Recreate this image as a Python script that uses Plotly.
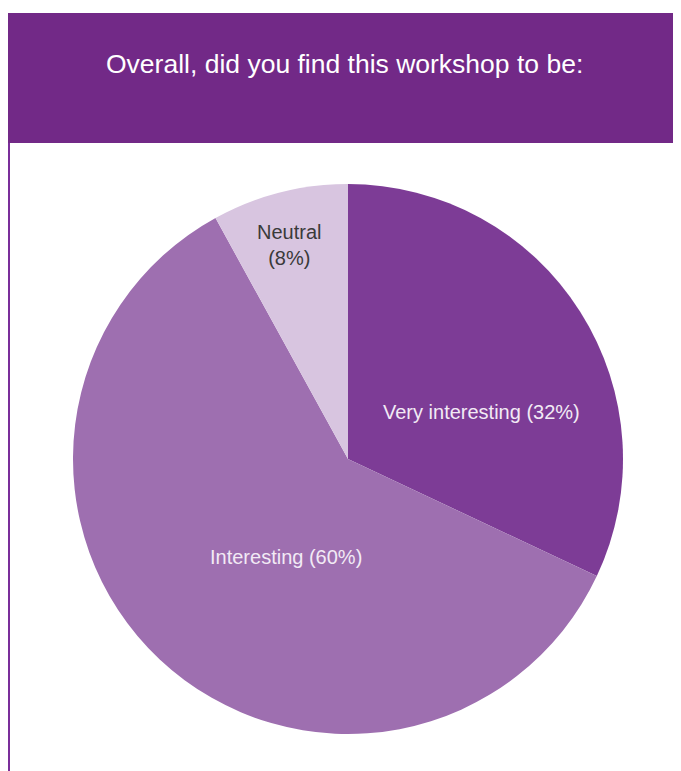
import plotly.graph_objects as go

labels = ["Very interesting", "Interesting", "Neutral"]
values = [32, 60, 8]
colors = ["#7d3c96", "#9e6fb0", "#d8c5e0"]
label_text = ["Very interesting (32%)", "Interesting (60%)", "Neutral<br>(8%)"]
label_colors = ["#f2eaf5", "#f2eaf5", "#3a3a3a"]
# label offsets from pie centre, in units of the pie radius (x right, y up)
label_dx = [0.487, -0.225, -0.215]
label_dy = [0.171, -0.356, 0.778]

W, H = 700, 771
OFF = 8  # page body margin
cx, cy, r = 348 - OFF, 459 - OFF, 275

fig = go.Figure()
fig.add_trace(go.Pie(
    labels=labels, values=values, sort=False, direction="clockwise", rotation=0,
    marker=dict(colors=colors, line=dict(width=0)),
    textinfo="none", hoverinfo="label+percent", showlegend=False,
    domain=dict(x=[(cx - r) / W, (cx + r) / W], y=[1 - (cy + r) / H, 1 - (cy - r) / H]),
))

for t, c, dx, dy in zip(label_text, label_colors, label_dx, label_dy):
    fig.add_annotation(
        x=(cx + dx * r) / W, y=1 - (cy - dy * r) / H, xref="paper", yref="paper",
        text=t, showarrow=False, font=dict(family="Liberation Sans, Arial", size=20, color=c),
        xanchor="center", yanchor="middle",
    )

# header banner
fig.add_shape(type="rect", xref="paper", yref="paper", x0=0, x1=1, y0=1 - (143 - OFF) / H, y1=1 - (13 - OFF) / H,
              fillcolor="#722987", line=dict(width=0), layer="below")
# left border line
fig.add_shape(type="line", xref="paper", yref="paper", x0=1 / W, x1=1 / W, y0=0, y1=1 - (143 - OFF) / H,
              line=dict(color="#7a2e9a", width=2))
fig.add_annotation(
    x=(344 - OFF) / W, y=1 - (64 - OFF) / H, xref="paper", yref="paper",
    text="Overall, did you find this workshop to be:", showarrow=False,
    font=dict(family="Liberation Sans, Arial", size=26.5, color="white"),
    xanchor="center", yanchor="middle",
)

fig.update_layout(width=W, height=H, margin=dict(l=0, r=0, t=0, b=0),
                  paper_bgcolor="white", plot_bgcolor="white")
fig.write_html("out.html")
